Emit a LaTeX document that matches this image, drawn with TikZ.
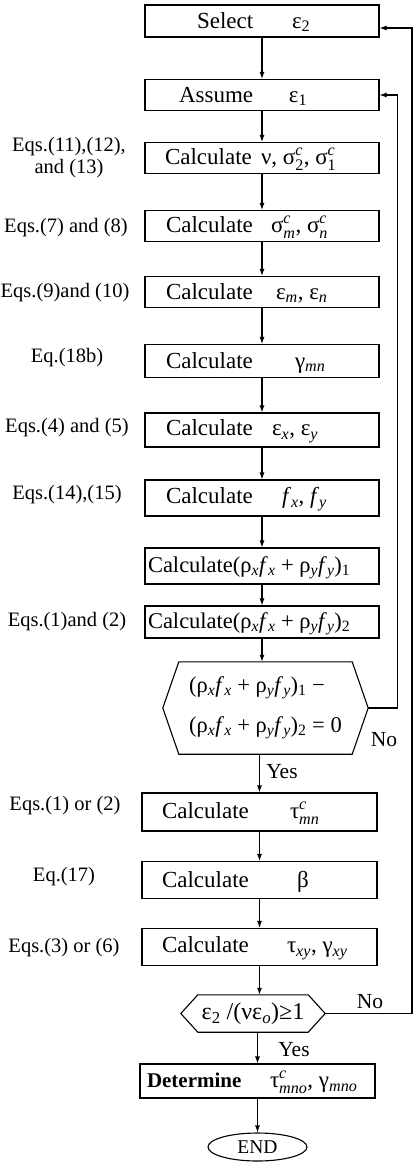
\documentclass[tikz,border=0pt]{standalone}
\usepackage{amsmath}
\usepackage{fontspec}
\setmainfont{Liberation Serif}
\usetikzlibrary{arrows.meta,shapes.geometric}

\newcommand\isub[1]{\ensuremath{_{\text{\itshape #1}}}}
\newcommand\rsub[1]{\ensuremath{_{\text{#1}}}}
\newcommand\iss[2]{\ensuremath{^{\text{\itshape #1}}_{\text{\itshape #2}}}}
\newcommand\rss[2]{\ensuremath{^{\text{\itshape #1}}_{\text{#2}}}}
\newcommand\BT[5]{\makebox[#1pt][l]{\rlap{\hspace*{#2pt}#3}\hspace*{#4pt}#5}\rule[-5pt]{0pt}{24pt}}

\begin{document}
\begin{tikzpicture}[x=1pt,y=-1pt,
  font=\fontsize{23}{27}\selectfont,
  flowbox/.style={draw, line width=1.1pt, inner sep=0pt, minimum width=234pt, minimum height=#1},
  flowbox/.default=33pt,
  lowbox/.style={flowbox=#1, minimum width=235pt},
  lowbox/.default=37pt,
  eqlabel/.style={font=\fontsize{20.5}{22}\selectfont, align=center, inner sep=0pt},
  yn/.style={font=\fontsize{21.5}{24}\selectfont, inner sep=0pt},
  arr/.style={-{Latex[length=7pt,width=5pt]}, line width=1.1pt},
  ln/.style={line width=1.1pt}]
\fill[white] (0,0) rectangle (414,1163);
\useasboundingbox (0,0) rectangle (414,1163);

% main column
\node[flowbox=32pt] (sel) at (262,21) {\BT{234}{52}{Select}{147}{ε\rsub{2}}};
\node[flowbox=31pt] (ass) at (262,95) {\BT{234}{34}{Assume}{144}{ε\rsub{1}}};
\node[flowbox=31pt] (c3) at (262,158) {\BT{234}{20}{Calculate}{116}{ν, σ\rss{c}{2}, σ\rss{c}{1}}};
\node[flowbox=31pt] (c4) at (262,226) {\BT{234}{21}{Calculate}{126}{σ\iss{c}{m}, σ\iss{c}{n}}};
\node[flowbox=31pt] (c5) at (262,292) {\BT{234}{21}{Calculate}{131}{ε\isub{m}, ε\isub{n}}};
\node[flowbox=33pt] (c6) at (262,361) {\BT{234}{21}{Calculate}{150}{γ\isub{mn}}};
\node[flowbox=34pt] (c7) at (262,430) {\BT{234}{21}{Calculate}{127}{ε\isub{x}, ε\isub{y}}};
\node[flowbox=36pt] (c8) at (262,498) {\BT{234}{21}{Calculate}{137}{\textit{f}\isub{x}, \textit{f}\isub{y}}};
\node[flowbox=36pt] (c9) at (262,566) {\BT{234}{3}{\fontsize{22.5}{26}\selectfont Calculate(ρ\isub{x}\textit{f}\isub{x} + ρ\isub{y}\textit{f}\isub{y})\rsub{1}}{0}{}};
\node[flowbox=32pt] (c10) at (262,622) {\BT{234}{3}{\fontsize{22.5}{26}\selectfont Calculate(ρ\isub{x}\textit{f}\isub{x} + ρ\isub{y}\textit{f}\isub{y})\rsub{2}}{0}{}};

% first decision (hexagon)
\node[inner sep=0pt, minimum width=173pt, minimum height=92pt, align=left,
      font=\fontsize{22.5}{40}\selectfont] (hex) at (265.5,708)
  {(ρ\isub{x}\textit{f}\isub{x} + ρ\isub{y}\textit{f}\isub{y})\rsub{1} −\\
   (ρ\isub{x}\textit{f}\isub{x} + ρ\isub{y}\textit{f}\isub{y})\rsub{2} = 0};
\coordinate (hexR) at ([xshift=16pt]hex.east);
\coordinate (hexL) at ([xshift=-16pt]hex.west);
\draw[ln] (hex.north west) -- (hex.north east) -- (hexR) -- (hex.south east)
  -- (hex.south west) -- (hexL) -- cycle;

\node[lowbox=38pt] (c11) at (259.5,812) {\BT{235}{20}{Calculate}{148}{τ\iss{c}{mn}}};
\node[lowbox] (c12) at (259.5,880) {\BT{235}{20}{Calculate}{155}{β}};
\node[lowbox] (c13) at (259.5,947) {\BT{235}{20}{Calculate}{145}{τ\isub{xy}, γ\isub{xy}}};

% second decision
\node[inner sep=0pt, minimum width=110pt, minimum height=37pt] (dec) at (253,1013.5)
  {\makebox[0pt]{\fontsize{24}{28}\selectfont ε\rsub{2} /(νε\isub{o})≥1}};
\coordinate (decR) at ([xshift=17pt]dec.east);
\coordinate (decL) at ([xshift=-17pt]dec.west);
\draw[ln] (dec.north west) -- (dec.north east) -- (decR) -- (dec.south east)
  -- (dec.south west) -- (decL) -- cycle;

\node[lowbox=34pt] (det) at (257.5,1081) {\BT{235}{7}{\bfseries\fontsize{21}{24}\selectfont Determine}{130}{τ\iss{c}{mno}, γ\isub{mno}}};
\node[ellipse, draw, line width=1.1pt, inner sep=0pt, minimum width=99pt, minimum height=28pt,
      font=\fontsize{19.5}{22}\selectfont] (end) at (257.5,1147) {END};

% labels
\node[eqlabel] (l3) at (69,158) {Eqs.(11),(12),\\and (13)};
\node[eqlabel] (l4) at (66,228) {Eqs.(7) and (8)};
\node[eqlabel] (l5) at (65,293) {Eqs.(9)and (10)};
\node[eqlabel] (l6) at (67,358) {Eq.(18b)};
\node[eqlabel] (l7) at (67,428) {Eqs.(4) and (5)};
\node[eqlabel] (l8) at (67,495) {Eqs.(14),(15)};
\node[eqlabel] (l10) at (67,622) {Eqs.(1)and (2)};
\node[eqlabel] (l11) at (65,806) {Eqs.(1) or (2)};
\node[eqlabel] (l12) at (64,877) {Eq.(17)};
\node[eqlabel] (l13) at (64,948) {Eqs.(3) or (6)};

\node[yn] (no1) at (384,740) {No};
\node[yn] (yes1) at (282,772) {Yes};
\node[yn] (no2) at (370,1002) {No};
\node[yn] (yes2) at (294,1050) {Yes};

% connectors
\draw[arr] (sel) -- (ass);
\draw[arr] (ass) -- (c3);
\draw[arr] (c3) -- (c4);
\draw[arr] (c4) -- (c5);
\draw[arr] (c5) -- (c6);
\draw[arr] (c6) -- (c7);
\draw[arr] (c7) -- (c8);
\draw[arr] (c8) -- (c9);
\draw[arr] (c9) -- (c10);
\draw[arr] (c10.south) -- (c10.south |- hex.north);
\draw[arr] (hex.south -| c11.north) -- (c11.north);
\draw[arr] (c11) -- (c12);
\draw[arr] (c12) -- (c13);
\draw[arr] (c13.south) -- (c13.south |- dec.north);
\draw[arr] (dec.south -| det.north) -- (det.north);
\draw[arr] (det) -- (end);

\draw[arr] (hexR) -| ([xshift=18pt]ass.east) -- (ass.east);
\coordinate (topin) at (412,28);
\draw[arr] (decR) -| (topin) -- (topin -| sel.east);
\end{tikzpicture}
\end{document}
